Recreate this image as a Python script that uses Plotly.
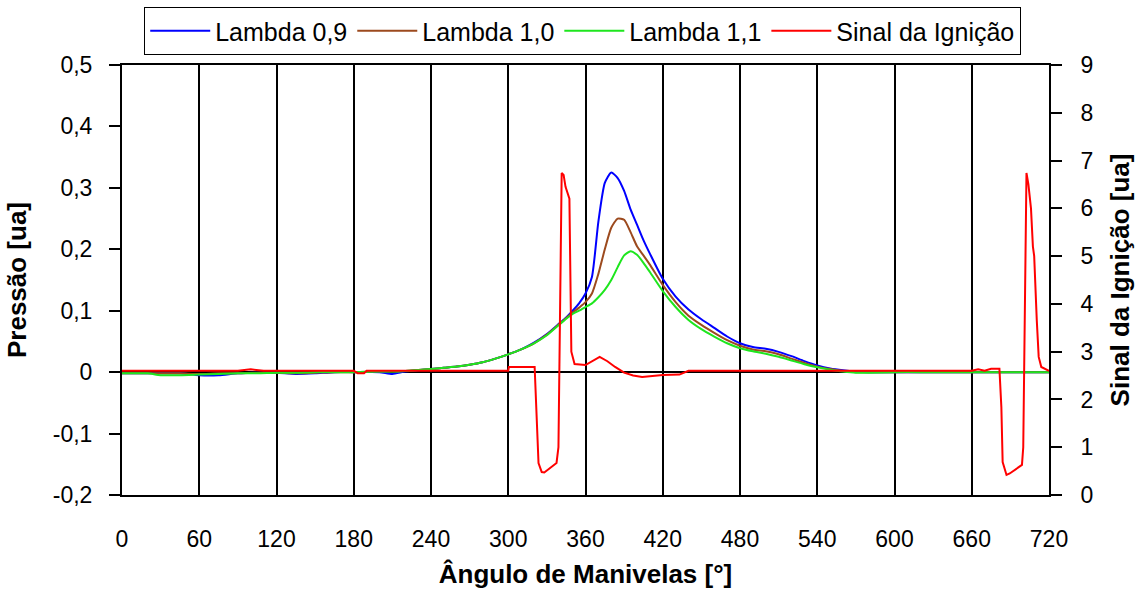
import plotly.graph_objects as go

# ---------------- data ----------------
angle_p = [0, 10, 20, 30, 45, 60, 75, 90, 105, 120, 135, 150, 165, 180, 200, 210, 220, 240,
           250, 260, 270, 280, 290, 300, 310, 320, 330, 340, 345, 350, 355, 360, 365, 370,
           375, 380, 385, 390, 395, 400, 405, 410, 420, 430, 440, 450, 460, 470, 480, 490,
           500, 510, 520, 530, 540, 550, 560, 570, 580, 600, 620, 640, 660, 680, 700, 720]

lambda_09 = [-0.002, -0.002, -0.002, -0.002, -0.002, -0.005, -0.005, -0.002, -0.001, -0.001, -0.003, -0.002, 0.0, 0.0, 0.0, -0.003, 0.001, 0.005,
             0.007, 0.009, 0.012, 0.016, 0.022, 0.029, 0.037, 0.048, 0.062, 0.080, 0.089, 0.100, 0.112, 0.128, 0.155, 0.245,
             0.308, 0.325, 0.316, 0.295, 0.265, 0.240, 0.215, 0.193, 0.152, 0.123, 0.102, 0.086, 0.072, 0.058, 0.047, 0.041,
             0.038, 0.033, 0.026, 0.018, 0.011, 0.006, 0.003, 0.001, 0.0, 0.0, 0.0, 0.0, 0.0, 0.0, 0.0, 0.0]

lambda_10 = [-0.002, -0.002, -0.002, -0.002, -0.002, -0.003, -0.002, -0.002, -0.001, -0.001, -0.002, -0.001, 0.0, 0.0, 0.001, 0.001, 0.002, 0.005,
             0.007, 0.009, 0.012, 0.016, 0.022, 0.029, 0.037, 0.047, 0.061, 0.079, 0.088, 0.097, 0.105, 0.114, 0.128, 0.160,
             0.200, 0.235, 0.250, 0.248, 0.228, 0.205, 0.190, 0.175, 0.142, 0.114, 0.092, 0.077, 0.064, 0.052, 0.043, 0.037,
             0.034, 0.029, 0.022, 0.015, 0.009, 0.005, 0.002, 0.0, 0.0, 0.0, 0.0, 0.0, 0.0, 0.0, 0.0, 0.0]

lambda_11 = [-0.002, -0.002, -0.002, -0.005, -0.005, -0.004, -0.003, -0.002, -0.002, -0.001, -0.001, 0.0, 0.0, 0.0, 0.001, 0.001, 0.002, 0.005,
             0.007, 0.009, 0.012, 0.016, 0.022, 0.029, 0.037, 0.047, 0.060, 0.078, 0.087, 0.095, 0.100, 0.106, 0.112, 0.122,
             0.134, 0.150, 0.171, 0.190, 0.197, 0.191, 0.178, 0.163, 0.132, 0.106, 0.085, 0.070, 0.058, 0.047, 0.039, 0.034,
             0.030, 0.025, 0.019, 0.013, 0.008, 0.004, 0.001, -0.001, -0.001, 0.0, 0.0, 0.0, 0.0, 0.0, 0.0, 0.0]

angle_s = [0, 90, 100, 110, 180, 183, 188, 190, 300, 300.5, 320.5, 322, 323.5, 326, 328, 337.5, 339,
           341.5, 343, 344.5, 347.5, 349, 351.5, 360, 365, 371, 377, 383, 390, 397, 404, 414, 420,
           433, 440, 660, 665, 670, 675, 681.5, 683, 684, 687, 689.5, 699, 700, 702.5, 704, 706,
           707.5, 708.5, 710.5, 712, 714, 719, 720]

ignicao = [2.6, 2.6, 2.63, 2.6, 2.6, 2.55, 2.55, 2.6, 2.6, 2.68, 2.68, 1.5, 0.67, 0.48, 0.47, 0.67, 1.0,
           6.74, 6.7, 6.45, 6.2, 3.0, 2.74, 2.72, 2.8, 2.89, 2.8, 2.68, 2.56, 2.5, 2.47, 2.5, 2.51,
           2.52, 2.6, 2.6, 2.63, 2.6, 2.64, 2.64, 1.84, 0.69, 0.42, 0.45, 0.63, 1.0, 6.74, 6.5, 6.0,
           5.2, 5.0, 3.66, 2.89, 2.68, 2.6, 2.6]

x_ticks = [0, 60, 120, 180, 240, 300, 360, 420, 480, 540, 600, 660, 720]
y_ticks = [-0.2, -0.1, 0, 0.1, 0.2, 0.3, 0.4, 0.5]
y_tick_text = ["-0,2", "-0,1", "0", "0,1", "0,2", "0,3", "0,4", "0,5"]
y2_ticks = [0, 1, 2, 3, 4, 5, 6, 7, 8, 9]

FONT = "Liberation Sans, Arial, sans-serif"

fig = go.Figure()
fig.add_trace(go.Scatter(x=angle_p, y=lambda_09, name="Lambda 0,9", mode="lines",
                         line=dict(color="#0000FF", width=2, shape="spline", smoothing=0.6)))
fig.add_trace(go.Scatter(x=angle_p, y=lambda_10, name="Lambda 1,0", mode="lines",
                         line=dict(color="#9C4A1E", width=2, shape="spline", smoothing=0.6)))
fig.add_trace(go.Scatter(x=angle_p, y=lambda_11, name="Lambda 1,1", mode="lines",
                         line=dict(color="#1EE61E", width=2, shape="spline", smoothing=0.6)))
fig.add_trace(go.Scatter(x=angle_s, y=ignicao, name="Sinal da Ignição", mode="lines",
                         line=dict(color="#FF0000", width=2), yaxis="y2"))

fig.update_layout(
    width=1144, height=601,
    margin=dict(l=122, r=95, t=65, b=106, autoexpand=False),
    paper_bgcolor="white", plot_bgcolor="white",
    font=dict(family=FONT, size=23, color="black"),
    showlegend=True,
    legend=dict(orientation="h", x=0.497, xanchor="center", y=1.023, yanchor="bottom",
                bordercolor="black", borderwidth=1, font=dict(size=25),
                itemwidth=60, tracegroupgap=0),
    xaxis=dict(range=[0, 720], tickvals=x_ticks, showgrid=True, gridcolor="black", gridwidth=1.5,
               showline=True, linecolor="black", linewidth=2, mirror=True, zeroline=False,
               ticks="", ticklabelstandoff=22,
               title=dict(text="<b>Ângulo de Manivelas [°]</b>", font=dict(size=26), standoff=14)),
    yaxis=dict(range=[-0.2, 0.5], tickvals=y_ticks, ticktext=y_tick_text, showgrid=False,
               zeroline=True, zerolinecolor="black", zerolinewidth=2,
               showline=True, linecolor="black", linewidth=2,
               ticks="outside", ticklen=11, tickwidth=2, tickcolor="black", ticklabelstandoff=12,
               title=dict(text="<b>Pressão [ua]</b>", font=dict(size=26), standoff=19)),
    yaxis2=dict(range=[0, 9], tickvals=y2_ticks, overlaying="y", side="right", showgrid=False,
                zeroline=False, showline=True, linecolor="black", linewidth=2,
                ticks="outside", ticklen=11, tickwidth=2, tickcolor="black", ticklabelstandoff=14,
                title=dict(text="<b>Sinal da Ignição [ua]</b>", font=dict(size=26), standoff=18)),
)

fig.write_html("out.html")
